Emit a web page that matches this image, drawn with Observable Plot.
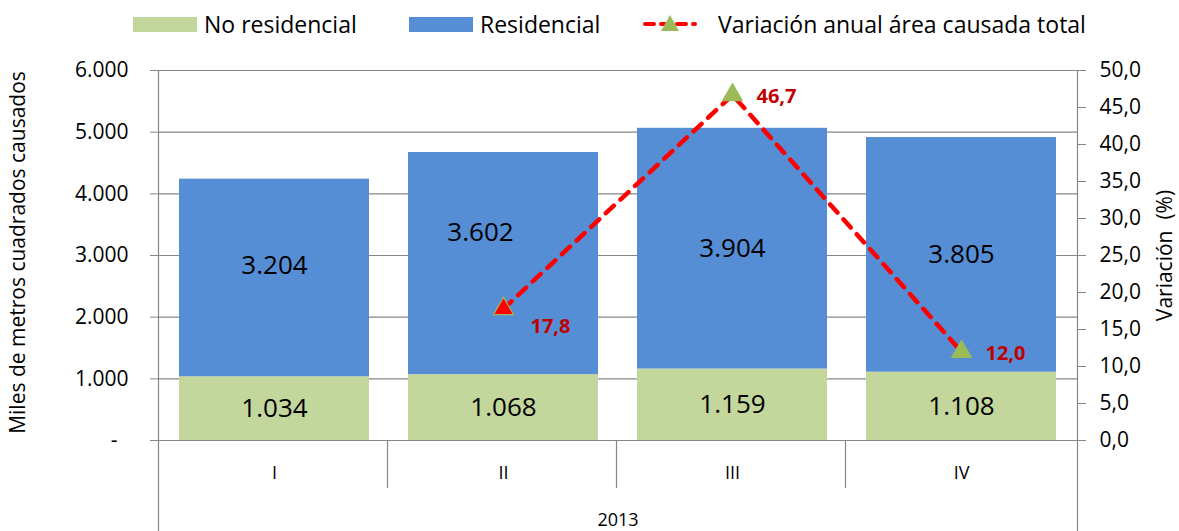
<!DOCTYPE html>
<html>
<head>
<meta charset="utf-8">
<script src="https://cdn.jsdelivr.net/npm/d3@7"></script>
<script src="https://cdn.jsdelivr.net/npm/@observablehq/plot@0.6"></script>
<style>
  html, body { margin: 0; padding: 0; background: #fff; }
  body { width: 1179px; height: 531px; overflow: hidden; font-family: "Open Sans", sans-serif; }
  #legend { position: relative; width: 1179px; height: 50px; font-size: 23px; color: #000; }
  #legend .item { position: absolute; top: 6px; display: flex; align-items: center; height: 36px; white-space: nowrap; }
  #legend .sw { width: 64px; height: 15px; margin-right: 7px; }
  svg { display: block; }
</style>
</head>
<body>
<div id="legend"></div>
<div id="chart"></div>
<script>
// ---- data ----
const quarters = ["I", "II", "III", "IV"];
const noResidencial = [1034, 1068, 1159, 1108];
const residencial = [3204, 3602, 3904, 3805];
const variacion = [null, 17.8, 46.7, 12.0];
const leftTicks = [0, 1000, 2000, 3000, 4000, 5000, 6000];
const rightTicks = [0, 5, 10, 15, 20, 25, 30, 35, 40, 45, 50];
const yearLabel = "2013";
const seriesNames = ["No residencial", "Residencial", "Variación anual área causada total"];
const colors = { green: "#c3d69b", blue: "#558ed5", red: "#ff0000", marker: "#9bbb59", label: "#c00000", grid: "#868686" };

const locale = d3.formatLocale({ decimal: ",", thousands: ".", grouping: [3], currency: ["", ""] });
const fmtInt = locale.format(",.0f");
const fmtPct = locale.format(".1f");
const ratio = leftTicks[leftTicks.length - 1] / rightTicks[rightTicks.length - 1]; // right axis -> left scale

// ---- tables ----
const barRows = [];
quarters.forEach((q, i) => {
  barRows.push({ q, serie: seriesNames[0], value: noResidencial[i] });
  barRows.push({ q, serie: seriesNames[1], value: residencial[i] });
});
const labelRows = quarters.map((q, i) => ({
  q, nr: noResidencial[i], r: residencial[i],
  nrMid: noResidencial[i] / 2, rMid: noResidencial[i] + residencial[i] / 2
}));
const lineRows = quarters.map((q, i) => ({ q, v: variacion[i] })).filter(d => d.v != null);

// ---- legend ----
const legend = document.getElementById("legend");
function addItem(left, swatchHtml, text) {
  const d = document.createElement("div");
  d.className = "item";
  d.style.left = left + "px";
  d.innerHTML = swatchHtml + `<span>${text}</span>`;
  legend.appendChild(d);
}
addItem(133, `<div class="sw" style="background:${colors.green}"></div>`, seriesNames[0]);
addItem(409, `<div class="sw" style="background:${colors.blue}"></div>`, seriesNames[1]);
addItem(642, `<svg width="56" height="24" style="margin-right:20px">
  <line x1="3" x2="53" y1="12" y2="12" stroke="${colors.red}" stroke-width="4" stroke-dasharray="9,7" stroke-linecap="round"/>
  <path d="M28,3 L37,19 L19,19 Z" fill="${colors.marker}"/></svg>`, seriesNames[2]);

// ---- custom category separators / axis lines ----
function frameLines(index, scales, values, dims) {
  const { x, y } = scales;
  const { width, height, marginLeft, marginRight } = dims;
  const g = d3.create("svg:g").attr("stroke", colors.grid).attr("stroke-width", 1.2);
  const half = x(quarters[0]) - marginLeft;
  const bounds = quarters.map(q => x(q) - half);
  bounds.push(width - marginRight);
  const y0 = y(0), yTop = y(leftTicks[leftTicks.length - 1]);
  bounds.forEach((b, i) => {
    const outer = i === 0 || i === bounds.length - 1;
    const xx = Math.round(b) + 0.5;
    g.append("line").attr("x1", xx).attr("x2", xx)
      .attr("y1", outer ? yTop : y0).attr("y2", outer ? height : y0 + 48);
  });
  return g.node();
}

const chart = Plot.plot({
  width: 1179,
  height: 481,
  marginTop: 20,
  marginBottom: 91,
  marginLeft: 158,
  marginRight: 102,
  style: { fontFamily: "Open Sans, sans-serif", color: "#000", background: "#fff" },
  x: { domain: quarters, paddingInner: 0.17, paddingOuter: 0.085, axis: null },
  y: { domain: [0, leftTicks[leftTicks.length - 1]], axis: null },
  color: { domain: seriesNames.slice(0, 2), range: [colors.green, colors.blue] },
  marks: [
    Plot.ruleY(leftTicks, { stroke: colors.grid, strokeWidth: 1.2 }),
    Plot.barY(barRows, { x: "q", y: "value", fill: "serie" }),
    Plot.ruleY([0], { stroke: colors.grid, strokeWidth: 1.2 }),
    frameLines,
    Plot.axisY({ anchor: "left", ticks: leftTicks, tickSize: 8, tickPadding: 22, fontSize: 21,
      stroke: colors.grid, fill: "#000", label: null,
      tickFormat: d => d === 0 ? "-\u00a0\u00a0" : fmtInt(d) }),
    Plot.axisY({ anchor: "right", ticks: rightTicks.map(v => v * ratio), tickSize: 8, tickPadding: 14, fontSize: 21,
      stroke: colors.grid, fill: "#000", label: null,
      tickFormat: d => fmtPct(d / ratio) }),
    Plot.axisX({ anchor: "bottom", tickSize: 0, tickPadding: 26, fontSize: 18, label: null }),
    Plot.text([yearLabel], { text: d => d, frameAnchor: "bottom", dy: 85, fontSize: 18 }),
    Plot.text(["Miles de metros cuadrados causados"], { text: d => d, frameAnchor: "left", textAnchor: "middle",
      rotate: -90, dx: -140, dy: -3, fontSize: 21 }),
    Plot.text(["Variación  (%)"], { text: d => d, frameAnchor: "right", textAnchor: "middle",
      rotate: -90, dx: 88, fontSize: 21 }),
    // bar value labels
    Plot.text(labelRows, { x: "q", y: "nrMid", text: d => fmtInt(d.nr), fontSize: 26 }),
    Plot.text(labelRows.filter(d => d.q === "I"), { x: "q", y: "rMid", text: d => fmtInt(d.r), fontSize: 26, dy: -12 }),
    Plot.text(labelRows.filter(d => d.q === "II"), { x: "q", y: "rMid", text: d => fmtInt(d.r), fontSize: 26, dx: -23, dy: -31 }),
    Plot.text(labelRows.filter(d => d.q === "III" || d.q === "IV"), { x: "q", y: "rMid", text: d => fmtInt(d.r), fontSize: 26 }),
    // variation line
    Plot.line(lineRows, { x: "q", y: d => d.v * ratio, stroke: colors.red, strokeWidth: 4.5,
      strokeDasharray: "11,9", strokeLinecap: "round", curve: "linear" }),
    Plot.dot(lineRows.filter(d => d.q === "II"), { x: "q", y: d => d.v * ratio, symbol: "triangle", r: 7.5,
      fill: colors.red, stroke: colors.marker, strokeWidth: 1.2 }),
    Plot.dot(lineRows.filter(d => d.q !== "II"), { x: "q", y: d => d.v * ratio, symbol: "triangle", r: 7.5,
      fill: colors.marker, stroke: colors.marker, strokeWidth: 1 }),
    Plot.text(lineRows.filter(d => d.q === "II"), { x: "q", y: d => d.v * ratio, text: d => fmtPct(d.v),
      textAnchor: "start", dx: 27, dy: 18, fontSize: 20, fontWeight: "bold", fill: colors.label }),
    Plot.text(lineRows.filter(d => d.q !== "II"), { x: "q", y: d => d.v * ratio, text: d => fmtPct(d.v),
      textAnchor: "start", dx: 24, dy: 2, fontSize: 20, fontWeight: "bold", fill: colors.label })
  ]
});
document.getElementById("chart").appendChild(chart);
</script>
</body>
</html>
